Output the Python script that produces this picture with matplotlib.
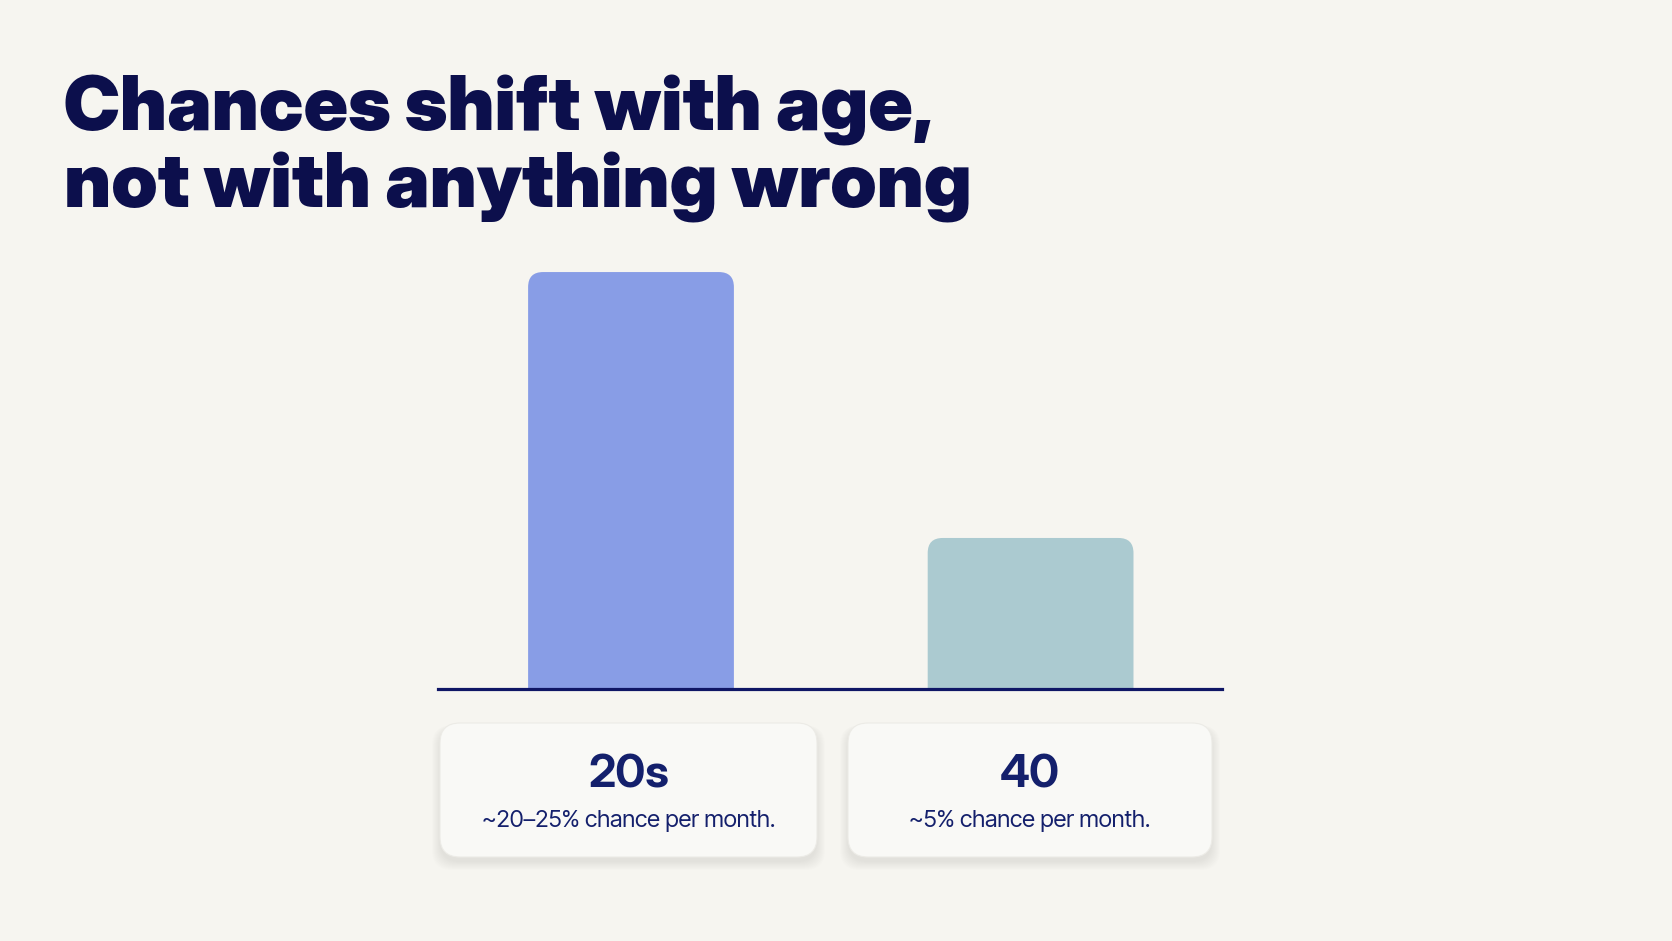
import matplotlib
matplotlib.use("Agg")
import matplotlib.pyplot as plt
from matplotlib.patches import FancyBboxPatch

# chart data
title_lines = ["Chances shift with age,", "not with anything wrong"]
groups = ["20s", "40"]
notes = ["~20\u201325% chance per month.", "~5% chance per month."]
values = [22.5, 8.15]
bar_colors = ["#889de6", "#abcad0"]

bg = "#f6f5f0"
navy = "#0c0f4c"
label_navy = "#14206c"

W, H = 1672, 941
fig = plt.figure(figsize=(W / 100, H / 100), dpi=100, facecolor=bg)

# overlay in pixel units (y down) for title and label cards
ov = fig.add_axes([0, 0, 1, 1])
ov.set_xlim(0, W)
ov.set_ylim(H, 0)
ov.axis("off")

ov.text(64, 130, title_lines[0], family="Inter Display", weight=900, size=55,
        color=navy, va="baseline", ha="left")
ov.text(64, 207, title_lines[1], family="Inter Display", weight=900, size=55,
        color=navy, va="baseline", ha="left")

# bar axes, baseline at y=689px
ax = fig.add_axes([438 / W, (H - 689) / H, (1222 - 438) / W, (689 - 250) / H])
ax.set_facecolor("none")
x = list(range(len(groups)))
bars = ax.bar(x, values, width=0.515, color=bar_colors)
ax.set_xlim(-0.483, 1.479)
ax.set_ylim(0, 23.69)
for s in ["top", "left", "right"]:
    ax.spines[s].set_visible(False)
ax.spines["bottom"].set_color("#0f1665")
ax.spines["bottom"].set_linewidth(2.3)
ax.spines["bottom"].set_zorder(5)
ax.set_xticks([])
ax.set_yticks([])

# swap the plain bars for ones with rounded tops
fig.canvas.draw()
p0 = ax.transData.transform((0, 0))
p1 = ax.transData.transform((1, 1))
aspect = (p1[0] - p0[0]) / (p1[1] - p0[1])
rad = 15 / (p1[0] - p0[0])
for b in bars:
    b.set_visible(False)
    extra = rad * aspect * 2
    ax.add_patch(FancyBboxPatch((b.get_x(), -extra), b.get_width(), b.get_height() + extra,
                                boxstyle=f"round,pad=0,rounding_size={rad}",
                                mutation_aspect=aspect, facecolor=b.get_facecolor(),
                                edgecolor="none", zorder=2))

# label cards
cards = [(440, 817), (848, 1212)]
top, bot = 723, 857
for (l, r), g, n in zip(cards, groups, notes):
    for k in range(10):
        ov.add_patch(FancyBboxPatch((l - k * 0.9, top + 5 - k * 0.3), r - l + k * 1.8, bot - top + k * 1.2,
                                    boxstyle="round,pad=0,rounding_size=20",
                                    facecolor="#000000", alpha=0.009, edgecolor="none"))
    ov.add_patch(FancyBboxPatch((l, top), r - l, bot - top,
                                boxstyle="round,pad=0,rounding_size=20",
                                facecolor="#f9f9f6", edgecolor="#ecebe6", linewidth=0.8))
    cx = (l + r) / 2
    ov.text(cx, 787, g, family="Inter Display", weight=700, size=33,
            color=label_navy, ha="center", va="baseline")
    ov.text(cx, 827, n, family="Inter Tight", size=17,
            color=label_navy, ha="center", va="baseline")

fig.savefig("out.png", dpi=100, facecolor=bg)
